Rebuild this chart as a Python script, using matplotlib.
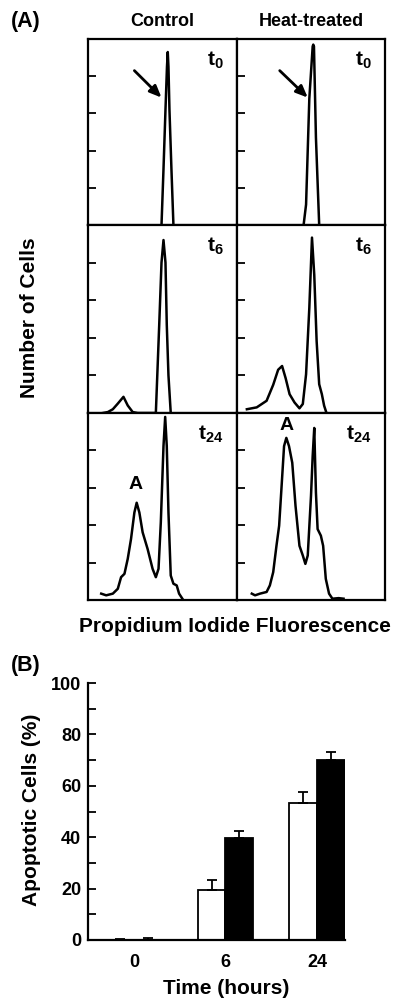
import matplotlib
matplotlib.use("Agg")
import matplotlib.pyplot as plt
import numpy as np

plt.rcParams['font.family'] = ['Liberation Sans', 'DejaVu Sans']
plt.rcParams['font.weight'] = 'bold'
plt.rcParams['mathtext.fontset'] = 'custom'
plt.rcParams['mathtext.rm'] = 'Liberation Sans'
plt.rcParams['mathtext.bf'] = 'Liberation Sans:bold'

# ---------------- Data: Panel A histograms (channel, % of panel height) ----------
ctrl_t0_x = [74, 76, 78, 79.5, 80.3, 81.0, 82.0, 84.0, 86]
ctrl_t0_y = [0, 30, 62, 85, 93, 85, 62, 30, 0]
heat_t0_x = [67.5, 70, 73.3, 76.7, 77.3, 78.0, 80.0, 83.3]
heat_t0_y = [0, 11, 68, 96, 97, 96, 47, 0]

ctrl_t6_x = [15, 20, 25, 30, 35.7, 40, 45, 50, 68.3, 71.7, 74, 76, 78, 79.3, 81, 83.3]
ctrl_t6_y = [0, 0.5, 2, 5, 8.6, 4, 0.5, 0, 0, 47, 80, 92, 80, 47, 20, 0]
heat_t6_x = [10, 20, 30, 36.7, 41.7, 45.7, 49.3, 53.3, 58.3, 63.3, 66.7, 70, 73.3,
             76, 78.3, 80.7, 83.3, 86, 88.3, 90.7]
heat_t6_y = [2, 3, 6.5, 15, 23, 25, 18.5, 10, 5.6, 2.5, 4.8, 20.6, 56,
             93.3, 73.5, 38.3, 15.3, 10, 3.9, 0]

ctrl_t24_x = [13.3, 18.3, 25, 30, 33.3, 36.7, 40, 43.3, 46.7, 49, 51.7, 55, 60, 65,
              68.3, 71, 73.3, 76, 77.7, 79.3, 81, 83.3, 86, 89.3, 91.7, 95]
ctrl_t24_y = [3.4, 2.5, 3.4, 6, 12.2, 14, 22, 32.6, 46.8, 52, 46.8, 36.2, 27.3, 16.7,
              12.2, 16.7, 41.5, 82.3, 97.9, 82.3, 46.8, 13.1, 8.7, 7.8, 3.4, 0.7]
heat_t24_x = [15, 18.3, 23.3, 30, 33.3, 36.7, 40, 42.7, 45, 47.7, 50, 52.7, 56, 59.3,
              63.3, 66.7, 69.3, 71.7, 75, 76.7, 78.3, 80, 81.7, 85, 87.3, 90, 93.3,
              96.7, 103, 108]
heat_t24_y = [3.4, 2.5, 3.4, 4.3, 7.8, 14.9, 29, 39.7, 59.2, 82.3, 86.7, 82.3, 73.4,
              50.4, 29, 23.8, 19.3, 23.8, 55.7, 77, 92, 57.4, 37.9, 34.4, 29, 11.3,
              3.4, 0.7, 1, 0.7]

col_titles = ["Control", "Heat-treated"]
time_labels = [r"$\mathbf{t_{0}}$", r"$\mathbf{t_{6}}$", r"$\mathbf{t_{24}}$"]

# ---------------- Data: Panel B bars ----------------
time_cats = ["0", "6", "24"]
control_pct = [0.0, 19.5, 53.5]
control_err = [0.5, 4.0, 4.0]
heat_pct = [0.0, 39.5, 70.0]
heat_err = [0.6, 3.0, 3.0]

W, H = 396, 999
fig = plt.figure(figsize=(W / 100, H / 100), dpi=100)

def add_px_axes(x0, y0, x1, y1):
    return fig.add_axes([x0 / W, 1 - y1 / H, (x1 - x0) / W, (y1 - y0) / H])

col_x = [(88, 237), (237, 385)]
row_y = [(39, 225), (225, 413), (413, 600)]
hist = [[(ctrl_t0_x, ctrl_t0_y), (heat_t0_x, heat_t0_y)],
        [(ctrl_t6_x, ctrl_t6_y), (heat_t6_x, heat_t6_y)],
        [(ctrl_t24_x, ctrl_t24_y), (heat_t24_x, heat_t24_y)]]

for r in range(3):
    for c in range(2):
        ax = add_px_axes(col_x[c][0], row_y[r][0], col_x[c][1], row_y[r][1])
        x, y = hist[r][c]
        ax.plot(x, y, color='black', lw=1.8, solid_joinstyle='round')
        ax.set_xlim(0, 150)
        ax.set_ylim(0, 100)
        ax.set_xticks([])
        ax.set_yticks([20, 40, 60, 80])
        ax.set_yticklabels([])
        ax.tick_params(axis='y', direction='in', length=6, width=1.3, left=True, right=False)
        for s in ax.spines.values():
            s.set_linewidth(1.6)
        ax.text(0.91, 0.945, time_labels[r], transform=ax.transAxes, ha='right', va='top',
                fontsize=15, fontweight='bold')
        if r == 0:
            tip = (74 if c == 0 else 71.7, 68.5)
            tail = (46.7 if c == 0 else 43.3, 83)
            ax.annotate("", xy=tip, xytext=tail,
                        arrowprops=dict(arrowstyle='-|>,head_length=0.7,head_width=0.3',
                                        color='black', lw=2, shrinkA=0, shrinkB=0))
        if r == 2:
            if c == 0:
                ax.text(48.3, 57, "A", ha='center', va='bottom', fontsize=14, fontweight='bold')
            else:
                ax.text(50, 89, "A", ha='center', va='bottom', fontsize=14, fontweight='bold')

fig.text(162 / W, 1 - 22 / H, col_titles[0], ha='center', va='center', fontsize=13, fontweight='bold')
fig.text(311 / W, 1 - 22 / H, col_titles[1], ha='center', va='center', fontsize=13, fontweight='bold')
fig.text(26 / W, 1 - 22 / H, "(A)", ha='center', va='center', fontsize=15.5, fontweight='bold')
fig.text(30 / W, 1 - 318 / H, "Number of Cells", ha='center', va='center', rotation=90,
         fontsize=15, fontweight='bold')
fig.text(235 / W, 1 - 627 / H, "Propidium Iodide Fluorescence", ha='center', va='center',
         fontsize=15, fontweight='bold')

# ---------------- Panel B ----------------
fig.text(26 / W, 1 - 665 / H, "(B)", ha='center', va='center', fontsize=15.5, fontweight='bold')
axb = add_px_axes(88, 683, 345, 940)
pos = np.arange(len(time_cats))
bw = 0.304
axb.bar(pos - bw / 2, control_pct, width=bw, color='white', edgecolor='black', lw=1.3)
axb.bar(pos + bw / 2, heat_pct, width=bw, color='black', edgecolor='black', lw=1.3)
axb.errorbar(pos - bw / 2, control_pct, yerr=[np.zeros(3), control_err], fmt='none',
             ecolor='black', elinewidth=1.3, capsize=3.5, capthick=1.3)
axb.errorbar(pos + bw / 2, heat_pct, yerr=[np.zeros(3), heat_err], fmt='none',
             ecolor='black', elinewidth=1.3, capsize=3.5, capthick=1.3)
axb.set_xlim(-0.5, 2 + bw)
axb.set_ylim(0, 100)
axb.set_xticks(pos)
axb.set_xticklabels(time_cats, fontsize=13, fontweight='bold')
axb.set_yticks([0, 20, 40, 60, 80, 100])
axb.set_yticklabels(["0", "20", "40", "60", "80", "100"], fontsize=13, fontweight='bold')
axb.set_yticks([10, 30, 50, 70, 90], minor=True)
axb.tick_params(axis='y', which='both', direction='in', length=6, width=1.3, pad=5)
axb.tick_params(axis='x', length=0, pad=10)
axb.spines['top'].set_visible(False)
axb.spines['right'].set_visible(False)
axb.spines['left'].set_linewidth(1.6)
axb.spines['bottom'].set_linewidth(1.6)
axb.spines['left'].set_bounds(0, 100)

fig.text(32 / W, 1 - 810 / H, "Apoptotic Cells (%)", ha='center', va='center', rotation=90,
         fontsize=15, fontweight='bold')
fig.text(226 / W, 1 - 988 / H, "Time (hours)", ha='center', va='center', fontsize=15,
         fontweight='bold')

fig.savefig("out.png", dpi=100)
